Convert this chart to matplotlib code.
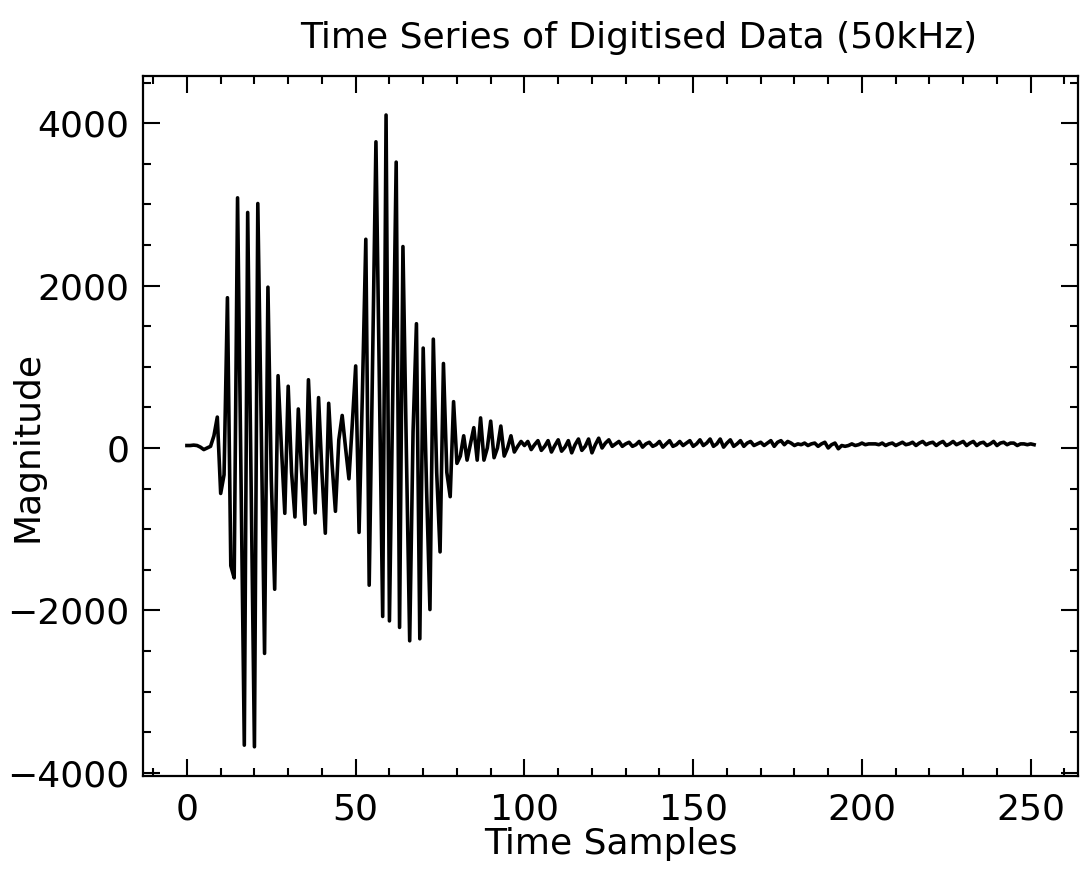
import numpy as np
import matplotlib
matplotlib.use("Agg")
import matplotlib.pyplot as plt
import matplotlib.ticker as ticker

# values, one per time sample (0..251)
burst_1 = [30, 30, 35, 30, 10, -20, 0, 20, 150, 380,
           -560, -330, 1850, -1450, -1600, 3080, -300, -3660, 2900, -400,
           -3680, 3010, 300, -2530, 1980, -400, -1740, 890, 0, -805,
           760, -300, -850, 480, -300, -940, 840, -100, -800, 620,
           -300, -1050, 550, -200, -780, 100, 400, 0, -380, 300]
burst_2 = [1010, -1040, 700, 2570, -1690, 1000, 3770, 800, -2075, 4100,
           -2130, 700, 3520, -2210, 2480, 0, -2375, 200, 1530, -2350,
           1230, -500, -1990, 1340, -300, -1280, 1040, -300, -600, 570,
           -190, -100, 150, -150, 50, 250, -150, 370, -150, 0,
           330, -120, 0, 270, -100, 0, 150, -50, 20, 80]
tail = [30, 80, -20, 40, 90, -30, 20, 90, -50, 30,
        100, -40, 10, 90, -60, 40, 110, -30, 20, 110,
        -60, 40, 120, 0, 60, 100, 20, 50, 80, 20,
        50, 70, 20, 40, 80, 10, 50, 70, 20, 40,
        80, 10, 50, 90, 20, 40, 80, 30, 60, 90,
        20, 50, 100, 30, 60, 110, 20, 50, 110, 10,
        60, 100, 20, 50, 90, 20, 60, 80, 30, 50,
        70, 30, 60, 90, 20, 70, 90, 40, 80, 60,
        30, 50, 40, 60, 30, 50, 60, 20, 50, 70,
        0, 40, 60, -10, 30, 20, 30, 50, 30, 40,
        60, 40, 50, 50, 50, 40, 60, 30, 50, 60,
        30, 50, 70, 40, 50, 70, 30, 60, 80, 40,
        60, 70, 30, 60, 80, 30, 50, 80, 40, 60,
        80, 30, 60, 80, 30, 60, 70, 30, 50, 80,
        30, 60, 70, 40, 60, 60, 30, 50, 50, 40,
        50, 40]

magnitude = np.array(burst_1 + burst_2 + tail)
samples = np.arange(len(magnitude))

plt.rcParams['font.family'] = ['DejaVu Sans']

fig = plt.figure(figsize=(10.87, 8.69), dpi=100)
ax = fig.add_axes([0.1316, 0.107, 0.8601, 0.8055])

ax.plot(samples, magnitude, color='black', linewidth=2.6)

ax.set_xlim(-13, 264)
ax.set_ylim(-4040, 4580)

ax.xaxis.set_major_locator(ticker.MultipleLocator(50))
ax.xaxis.set_minor_locator(ticker.MultipleLocator(10))
ax.yaxis.set_major_locator(ticker.MultipleLocator(2000))
ax.yaxis.set_minor_locator(ticker.MultipleLocator(500))

ax.tick_params(which='both', direction='in', top=True, right=True,
               width=1.5, color='black')
ax.tick_params(which='major', length=12, labelsize=26)
ax.tick_params(which='minor', length=6)
ax.tick_params(axis='x', which='major', pad=12)
ax.tick_params(axis='y', which='major', pad=10)

for s in ax.spines.values():
    s.set_linewidth(1.6)

ax.set_title("Time Series of Digitised Data (50kHz)", fontsize=26, pad=20, x=0.53)
ax.set_xlabel("Time Samples", fontsize=26, labelpad=0)
ax.set_ylabel("Magnitude", fontsize=26)
ax.yaxis.set_label_coords(-0.105, 0.471)

fig.savefig("out.png", dpi=100)
